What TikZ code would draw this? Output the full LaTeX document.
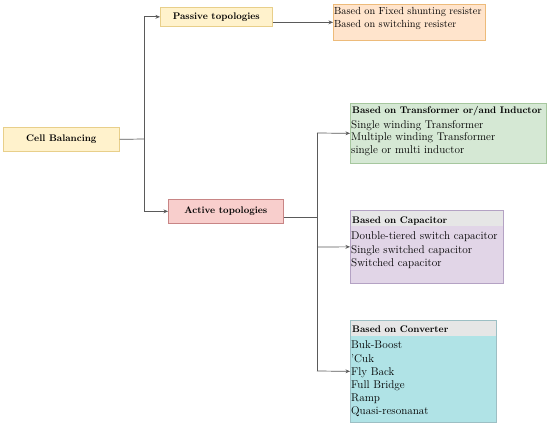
\documentclass[tikz,border=0pt]{standalone}
\usetikzlibrary{arrows.meta}
\definecolor{ylwF}{HTML}{FFF2CC}
\definecolor{ylwD}{HTML}{E8CF8A}
\definecolor{orgF}{HTML}{FFE4CC}
\definecolor{orgD}{HTML}{EDBB7A}
\definecolor{redF}{HTML}{F8CECC}
\definecolor{redD}{HTML}{C88585}
\definecolor{grnF}{HTML}{D5E8D4}
\definecolor{grnD}{HTML}{A6C79E}
\definecolor{purF}{HTML}{E1D5E7}
\definecolor{purD}{HTML}{B4A2C4}
\definecolor{cynF}{HTML}{B0E3E6}
\definecolor{cynD}{HTML}{9DBFC4}
\definecolor{bandF}{HTML}{E6E6E6}
\definecolor{lineC}{HTML}{5A5A5A}
\begin{document}
\begin{tikzpicture}[x=1pt,y=-1pt,
  box/.style={draw, line width=0.7pt, inner sep=0pt, anchor=north west},
  band/.style={fill=bandF, draw=none, inner sep=0pt, anchor=north west},
  txt/.style={align=left, inner sep=0pt, anchor=north west, font=\fontsize{11.2}{13.2}\selectfont},
  txtG/.style={align=left, inner sep=0pt, anchor=north west, font=\fontsize{11.2}{12.6}\selectfont},
  txtS/.style={align=left, inner sep=0pt, anchor=north west, font=\fontsize{10.3}{13}\selectfont},
  ttl/.style={inner sep=0pt, anchor=base west, font=\fontsize{9.6}{13.1}\selectfont\bfseries},
  lbl/.style={font=\fontsize{9.6}{12}\selectfont\bfseries},
  conn/.style={draw=lineC, line width=0.7pt},
  arr/.style={conn, -{Stealth[length=4.5pt,width=3.8pt]}, shorten >=0pt}
]
\useasboundingbox (0,0) rectangle (550,425);
\fill[white] (0,0) rectangle (550,425);

% left column
\node[box, fill=ylwF, draw=ylwD, minimum width=116pt, minimum height=24pt, lbl] (cb) at (3,127) {Cell Balancing};
\node[box, fill=ylwF, draw=ylwD, minimum width=112pt, minimum height=19pt, lbl] (pas) at (160,7) {Passive topologies};
\node[box, fill=redF, draw=redD, minimum width=115pt, minimum height=24pt, lbl] (act) at (168,199) {Active topologies};

% passive result
\node[box, fill=orgF, draw=orgD, minimum width=152pt, minimum height=36pt] (ori) at (333,4) {};
\node[txtS] (oriX) at (334,7.5) {Based on Fixed shunting resister\\Based on switching resister};

% transformer
\node[box, fill=grnF, draw=grnD, minimum width=196pt, minimum height=60pt] (grn) at (350,103) {};
\node[ttl] (grnT) at (352,114) {Based on Transformer or/and Inductor};
\node[txtG] (grnX) at (351,120.3) {Single winding Transformer\\Multiple winding Transformer\\single or multi inductor};

% capacitor
\node[box, fill=purF, draw=purD, minimum width=153pt, minimum height=73pt] (pur) at (350,210) {};
\node[band, minimum width=152.3pt, minimum height=15.5pt] (purB) at (350.35,210.35) {};
\node[ttl] (purT) at (352,223.5) {Based on Capacitor};
\node[txt] (purX) at (351,232) {Double-tiered switch capacitor\\Single switched capacitor\\Switched capacitor};

% converter
\node[box, fill=cynF, draw=cynD, minimum width=146pt, minimum height=102pt] (cyn) at (350,320) {};
\node[band, minimum width=145.3pt, minimum height=15.5pt] (cynB) at (350.35,320.35) {};
\node[ttl] (cynT) at (352,333) {Based on Converter};
\node[txt] (cynX) at (351,341) {Buk-Boost\\'Cuk\\Fly Back\\Full Bridge\\Ramp\\Quasi-resonanat};

% connectors
\coordinate (j1) at (144,139);
\coordinate (j2) at (317,217);
\coordinate (g) at (317,133);
\coordinate (p) at (317,247);
\coordinate (c) at (317,371);
\draw[conn] (cb.east) -- (j1);
\draw[arr] (j1) |- (pas.west);
\draw[arr] (j1) |- (act.west);
\draw[arr] (pas.east |- ori.west) -- (ori.west);
\draw[conn] (act.east |- j2) -- (j2);
\draw[conn] (g) -- (c);
\draw[arr] (g) -- (grn.west);
\draw[arr] (p) -- (pur.west);
\draw[arr] (c) -- (cyn.west);
\end{tikzpicture}
\end{document}
